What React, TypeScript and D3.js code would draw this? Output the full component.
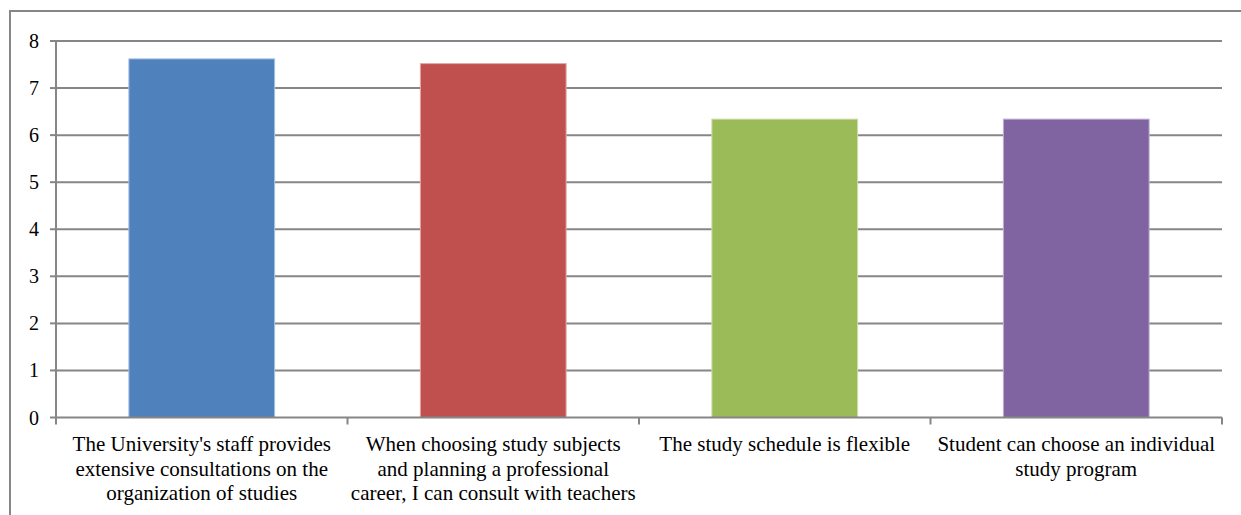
import React from "react";
import * as d3 from "d3";

const categories: string[][] = [
  ["The University's staff provides", "extensive consultations on the", "organization of studies"],
  ["When choosing study subjects", "and planning a professional", "career, I can consult with teachers"],
  ["The study schedule is flexible"],
  ["Student can choose an individual", "study program"],
];
const values: number[] = [7.62, 7.52, 6.34, 6.34];
const colors: string[] = ["#4F81BD", "#C0504D", "#9BBB59", "#8064A2"];
const strokeColors: string[] = ["#A7C0DE", "#E0A8A6", "#CDDDAC", "#BFB1D0"];
const yTicks: number[] = [0, 1, 2, 3, 4, 5, 6, 7, 8];

export default function App() {
  const W = 1241, H = 515;
  const left = 56, right = 1222, top = 41, bottom = 417.5;
  const x = d3.scaleBand<number>().domain(d3.range(categories.length)).range([left, right]).paddingInner(0.5).paddingOuter(0.25);
  const xb = d3.scaleBand<number>().domain(d3.range(categories.length)).range([left, right]);
  const y = d3.scaleLinear().domain([0, 8]).range([bottom, top]);
  const grid = "#868686";
  const font = "'Liberation Serif', 'Times New Roman', serif";
  return (
    <svg width={W} height={H} style={{ position: "absolute", left: 0, top: 0, background: "#fff" }}>
      <rect x={10} y={11} width={W + 20} height={H + 20} fill="#fff" stroke={grid} strokeWidth={2} />
      {yTicks.map((t) => (
        <g key={t}>
          {t > 0 && <line x1={left} x2={right} y1={y(t)} y2={y(t)} stroke={grid} strokeWidth={2} />}
          <line x1={left - 6} x2={left} y1={y(t)} y2={y(t)} stroke={grid} strokeWidth={2} />
          <text x={39} y={y(t)} textAnchor="end" dominantBaseline="central" fontFamily={font} fontSize={20} fill="#000">{t}</text>
        </g>
      ))}
      {values.map((v, i) => (
        <rect key={i} x={x(i)} y={y(v)} width={x.bandwidth()} height={y(0) - y(v)} fill={colors[i]} stroke={strokeColors[i]} strokeWidth={1} />
      ))}
      <line x1={left} x2={left} y1={top} y2={bottom} stroke={grid} strokeWidth={2} />
      <line x1={left} x2={right} y1={bottom} y2={bottom} stroke={grid} strokeWidth={2} />
      {d3.range(categories.length + 1).map((i) => {
        const px = i < categories.length ? xb(i)! : right;
        return <line key={i} x1={px} x2={px} y1={bottom} y2={bottom + 7} stroke={grid} strokeWidth={2} />;
      })}
      {categories.map((lines, i) => (
        <text key={i} x={xb(i)! + xb.bandwidth() / 2} y={451} textAnchor="middle" fontFamily={font} fontSize={21} fill="#000">
          {lines.map((l, j) => (
            <tspan key={j} x={xb(i)! + xb.bandwidth() / 2} dy={j === 0 ? 0 : 24.5}>{l}</tspan>
          ))}
        </text>
      ))}
    </svg>
  );
}
